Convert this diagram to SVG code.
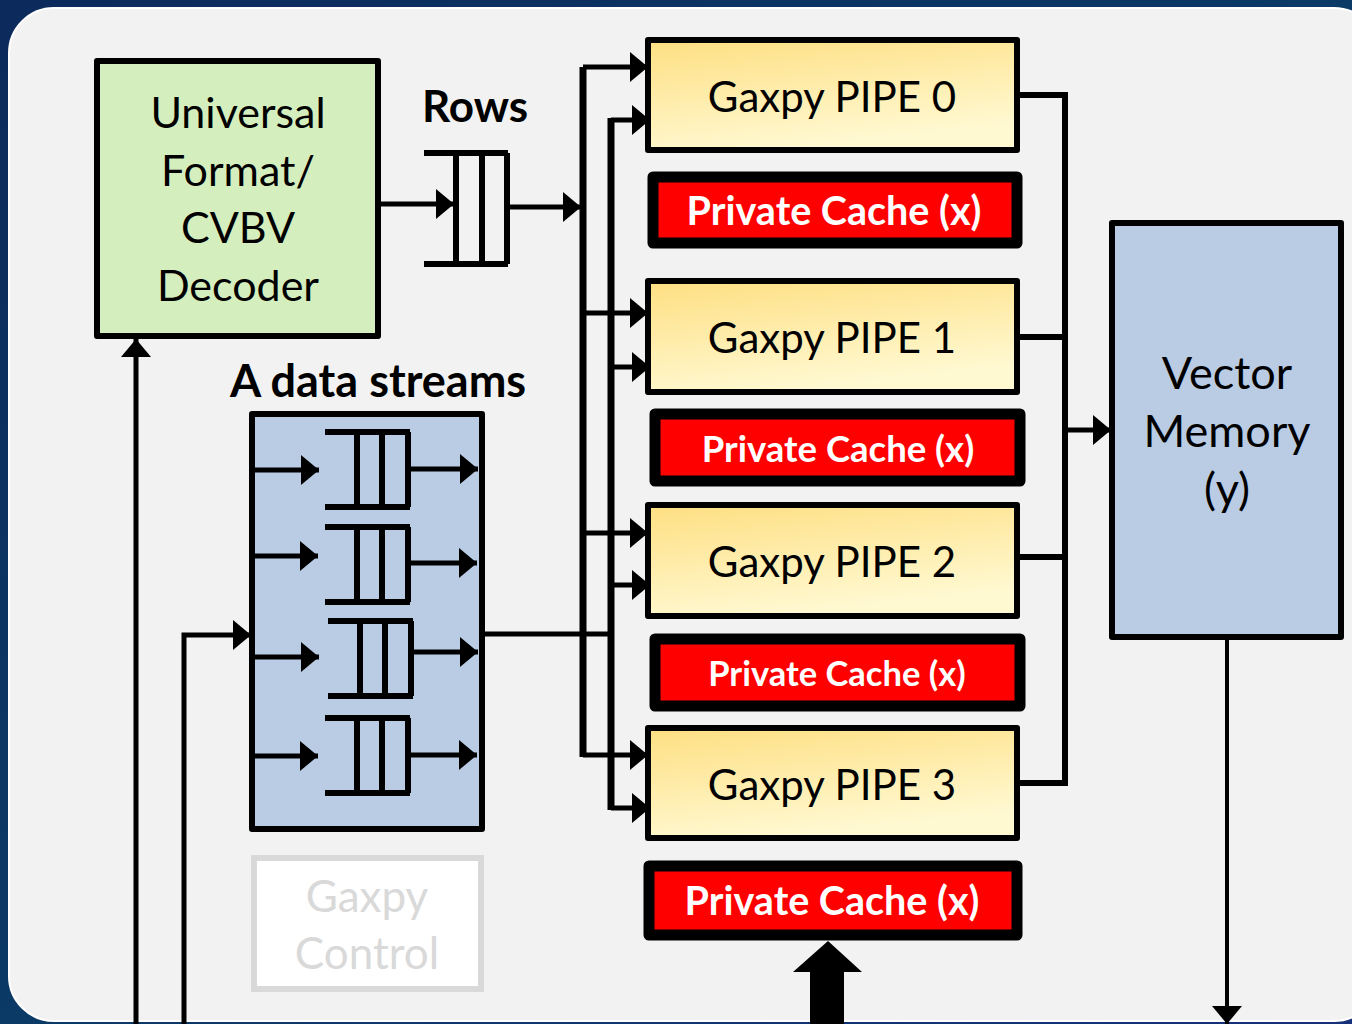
<svg xmlns="http://www.w3.org/2000/svg" width="1352" height="1024" viewBox="0 0 1352 1024">
<defs>
<linearGradient id="bg" x1="0" y1="0" x2="1" y2="1">
<stop offset="0" stop-color="#0c2a5c"/>
<stop offset="0.5" stop-color="#0b3a66"/>
<stop offset="1" stop-color="#16307a"/>
</linearGradient>
<linearGradient id="pipe" x1="0" y1="0" x2="0.35" y2="1">
<stop offset="0" stop-color="#fedf82"/>
<stop offset="1" stop-color="#fff9d2"/>
</linearGradient>
<marker id="ah" viewBox="0 0 18 30" refX="18" refY="15" markerWidth="18" markerHeight="30" markerUnits="userSpaceOnUse" orient="auto">
<path d="M0,0 L18,15 L0,30 z" fill="#000"/>
</marker>
</defs>
<style>
.box{stroke:#000;stroke-width:6;stroke-linejoin:round}
.lbl{font-family:Lato,"Open Sans","Liberation Sans",sans-serif;fill:#000;text-anchor:middle}
.big{font-size:42px}
.bold{font-weight:bold}
.cache{fill:#ff0000;stroke:#000;stroke-width:11;stroke-linejoin:round}
.ctext{font-family:Lato,"Open Sans","Liberation Sans",sans-serif;font-weight:bold;fill:#fff;text-anchor:middle;font-size:39.5px}
.w{stroke:#000;stroke-width:5;fill:none}
.bus{stroke:#000;stroke-width:7;fill:none}
.q{stroke:#000;stroke-width:6;fill:none}
.arr{stroke:#000;stroke-width:5;fill:none;marker-end:url(#ah)}
</style>
<rect x="0" y="0" width="1352" height="1024" fill="url(#bg)"/>
<rect x="9" y="8" width="1370" height="1013" rx="45" ry="45" fill="#f2f2f2" stroke="#ffffff" stroke-width="2"/>

<g id="decoder">
<rect class="box" x="97" y="61" width="281" height="275" fill="#d5eebd"/>
<text class="lbl" font-size="43" x="238" y="128">Universal</text>
<text class="lbl" font-size="43" x="238" y="186">Format/</text>
<text class="lbl" font-size="43" x="238" y="243">CVBV</text>
<text class="lbl" font-size="43" x="238" y="301">Decoder</text>
</g>

<g id="rows-label"><text class="lbl bold" font-size="44" x="475" y="122">Rows</text></g>

<g id="rows-queue">
<path class="q" d="M424,153 H508 M424,264 H508 M456,153 V264 M482,153 V264 M507,153 V264"/>
</g>

<g id="a-streams">
<text class="lbl bold" font-size="45" x="378" y="397">A data streams</text>
<rect class="box" x="252" y="414" width="230" height="415" fill="#b9cce4"/>
<path class="q" d="M325,432 H410 M325,507 H410 M357,432 V507 M382,432 V507 M408,432 V507"/>
<path class="q" d="M325,527 H410 M325,602 H410 M357,527 V602 M382,527 V602 M408,527 V602"/>
<path class="q" d="M328,621 H413 M328,696 H413 M360,621 V696 M385,621 V696 M411,621 V696"/>
<path class="q" d="M325,718 H410 M325,793 H410 M357,718 V793 M382,718 V793 M408,718 V793"/>
</g>

<g id="gaxpy-control">
<rect x="254" y="858" width="227" height="131" fill="#ffffff" stroke="#d9d9d9" stroke-width="6"/>
<text class="lbl" font-size="44" style="fill:#d9d9d9" x="367" y="912">Gaxpy</text>
<text class="lbl" font-size="44" style="fill:#d9d9d9" x="367" y="969">Control</text>
</g>

<g id="pipe0">
<rect class="box" x="648" y="40" width="369" height="110" fill="url(#pipe)"/>
<text class="lbl big" x="832" y="112">Gaxpy PIPE 0</text>
</g>
<g id="cache0">
<rect class="cache" x="653" y="177" width="364" height="66"/>
<text class="ctext" x="834" y="225">Private Cache (x)</text>
</g>
<g id="pipe1">
<rect class="box" x="648" y="281" width="369" height="111" fill="url(#pipe)"/>
<text class="lbl big" x="832" y="353">Gaxpy PIPE 1</text>
</g>
<g id="cache1">
<rect class="cache" x="655" y="414" width="365" height="67"/>
<text class="ctext" style="font-size:36.5px" x="838" y="462">Private Cache (x)</text>
</g>
<g id="pipe2">
<rect class="box" x="648" y="505" width="369" height="111" fill="url(#pipe)"/>
<text class="lbl big" x="832" y="577">Gaxpy PIPE 2</text>
</g>
<g id="cache2">
<rect class="cache" x="655" y="639" width="365" height="67"/>
<text class="ctext" style="font-size:34.5px" x="837" y="686">Private Cache (x)</text>
</g>
<g id="pipe3">
<rect class="box" x="648" y="728" width="369" height="110" fill="url(#pipe)"/>
<text class="lbl big" x="832" y="800">Gaxpy PIPE 3</text>
</g>
<g id="cache3">
<rect class="cache" x="649" y="866" width="368" height="69"/>
<text class="ctext" x="832" y="915">Private Cache (x)</text>
</g>

<g id="vector-memory">
<rect class="box" x="1112" y="223" width="229" height="414" fill="#b9cce4"/>
<text class="lbl" font-size="45" x="1227" y="389">Vector</text>
<text class="lbl" font-size="45" x="1227" y="447">Memory</text>
<text class="lbl" font-size="45" x="1227" y="505">(y)</text>
</g>

<g id="connectors">
<line class="arr" x1="378" y1="204" x2="454" y2="204"/>
<line class="arr" x1="508" y1="207" x2="581" y2="207"/>
<path class="bus" d="M583,67 V757"/>
<path class="bus" d="M611,118 V810"/>
<line class="arr" x1="583" y1="67" x2="648" y2="67"/>
<line class="arr" x1="611" y1="120" x2="650" y2="120"/>
<line class="arr" x1="583" y1="313" x2="648" y2="313"/>
<line class="arr" x1="611" y1="367" x2="650" y2="367"/>
<line class="arr" x1="583" y1="533" x2="648" y2="533"/>
<line class="arr" x1="611" y1="585" x2="650" y2="585"/>
<line class="arr" x1="583" y1="755" x2="648" y2="755"/>
<line class="arr" x1="611" y1="808" x2="650" y2="808"/>
<line class="w" x1="482" y1="634" x2="611" y2="634"/>
<line class="arr" x1="255" y1="470" x2="319" y2="470"/>
<line class="arr" x1="410" y1="469" x2="478" y2="469"/>
<line class="arr" x1="255" y1="556" x2="318" y2="556"/>
<line class="arr" x1="410" y1="563" x2="477" y2="563"/>
<line class="arr" x1="255" y1="657" x2="319" y2="657"/>
<line class="arr" x1="413" y1="652" x2="478" y2="652"/>
<line class="arr" x1="255" y1="756" x2="318" y2="756"/>
<line class="arr" x1="410" y1="755" x2="477" y2="755"/>
<line class="arr" x1="136" y1="1024" x2="136" y2="339"/>
<path class="arr" d="M184,1024 V635 H251"/>
<path class="w" style="stroke-width:6" d="M1017,95 H1065 V783 H1017 M1017,337 H1065 M1017,557 H1065"/>
<line class="arr" x1="1065" y1="430" x2="1111" y2="430"/>
<line class="arr" style="stroke-width:4" x1="1227" y1="637" x2="1227" y2="1024"/>
<path d="M810,1024 V972 H793 L828,941 L862,972 H844 V1024 z" fill="#000"/>
</g>
</svg>
